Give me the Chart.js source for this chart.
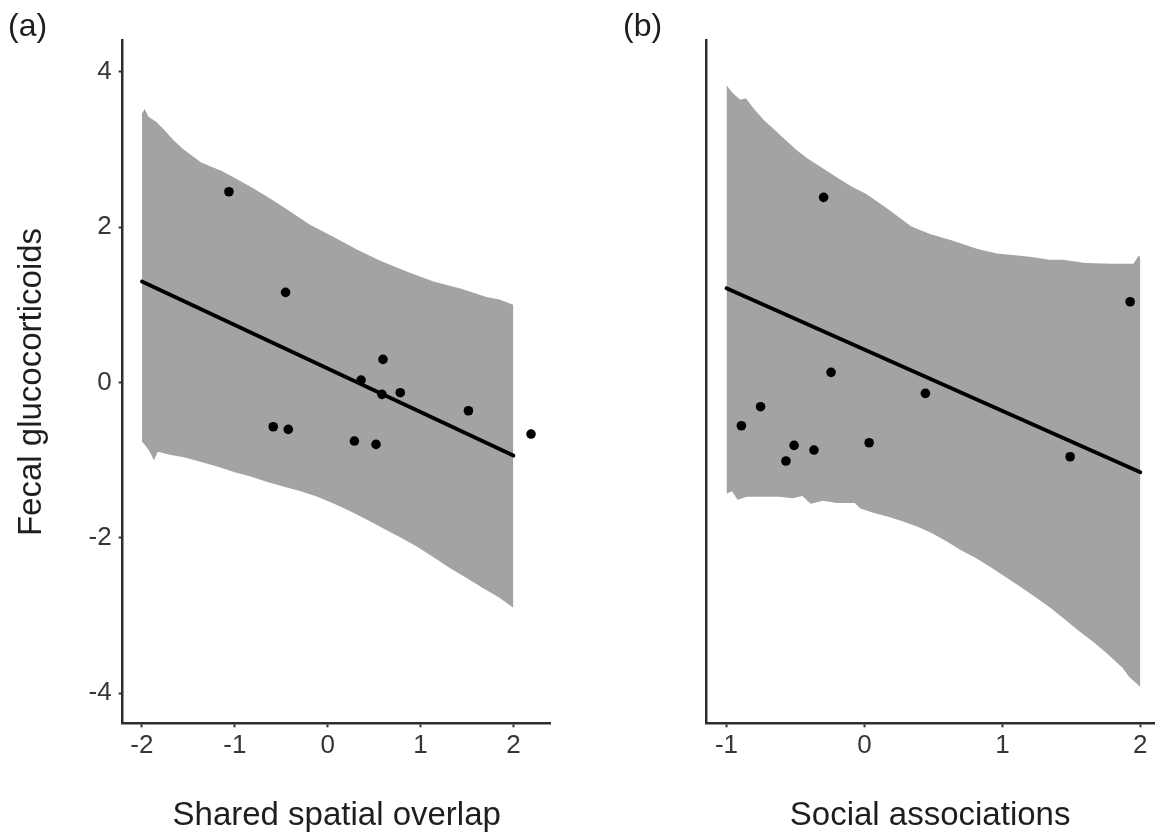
<!DOCTYPE html>
<html>
<head>
<meta charset="utf-8">
<title>Fecal glucocorticoids vs. spatial overlap and social associations</title>
<script src="https://cdn.jsdelivr.net/npm/chart.js@4.4.1/dist/chart.umd.min.js"></script>
<style>
  html, body { margin: 0; padding: 0; background: #fff; overflow: hidden; }
  #wrap { position: relative; width: 1159px; height: 838px; }
  canvas { position: absolute; top: 0; }
</style>
</head>
<body>
<div id="wrap">
  <canvas id="panelA" width="580" height="838" style="left:0px"></canvas>
  <canvas id="panelB" width="579" height="838" style="left:580px"></canvas>
</div>
<script>
// ---------- shared axis ----------
const yTicks = [-4, -2, 0, 2, 4];
const yTickLabels = ['-4', '-2', '0', '2', '4'];
const yTitle = 'Fecal glucocorticoids';

// ---------- panel (a): shared spatial overlap ----------
const overlapTicks = [-2, -1, 0, 1, 2];
const overlapTickLabels = ['-2', '-1', '0', '1', '2'];
const overlapTitle = 'Shared spatial overlap';

const overlapPointX = [-1.063, -0.453, 0.596, 0.360, 0.585, 0.782, 1.516, 2.190, -0.586, -0.424, 0.288, 0.521];
const overlapPointY = [2.456, 1.161, 0.298, 0.032, -0.152, -0.131, -0.363, -0.663, -0.569, -0.603, -0.753, -0.796];

const overlapFitX = [-2.0, 2.0];
const overlapFitY = [1.30, -0.94];

const overlapUpperX = [-2.0, -1.97, -1.93, -1.85, -1.75, -1.66, -1.55, -1.46, -1.37, -1.26, -1.15, -1.01, -0.83, -0.65, -0.44, -0.19, 0.07, 0.32, 0.56, 0.85, 1.14, 1.43, 1.71, 1.85, 2.0];
const overlapUpperY = [3.46, 3.52, 3.42, 3.36, 3.24, 3.12, 3.00, 2.92, 2.84, 2.78, 2.73, 2.64, 2.52, 2.39, 2.23, 2.03, 1.87, 1.71, 1.57, 1.43, 1.30, 1.21, 1.10, 1.07, 1.00];

const overlapLowerX = [-2.0, -1.97, -1.92, -1.87, -1.83, -1.70, -1.55, -1.37, -1.19, -1.01, -0.83, -0.65, -0.47, -0.29, -0.11, 0.07, 0.25, 0.43, 0.60, 0.78, 0.96, 1.14, 1.32, 1.50, 1.68, 1.85, 2.0];
const overlapLowerY = [-0.76, -0.80, -0.88, -1.00, -0.89, -0.93, -0.96, -1.02, -1.08, -1.15, -1.21, -1.28, -1.34, -1.40, -1.47, -1.56, -1.66, -1.77, -1.88, -1.99, -2.11, -2.25, -2.39, -2.52, -2.65, -2.77, -2.90];

// ---------- panel (b): social associations ----------
const socialTicks = [-1, 0, 1, 2];
const socialTickLabels = ['-1', '0', '1', '2'];
const socialTitle = 'Social associations';

const socialPointX = [-0.296, 1.926, -0.242, 0.442, -0.753, -0.892, -0.510, -0.366, -0.569, 0.034, 1.491];
const socialPointY = [2.384, 1.040, 0.131, -0.139, -0.311, -0.556, -0.809, -0.869, -1.010, -0.775, -0.955];

const socialFitX = [-1.0, 2.0];
const socialFitY = [1.215, -1.155];

const socialUpperX = [-1.0, -0.97, -0.94, -0.90, -0.86, -0.80, -0.73, -0.65, -0.57, -0.49, -0.41, -0.33, -0.19, -0.09, 0.01, 0.15, 0.34, 0.48, 0.63, 0.82, 0.96, 1.20, 1.34, 1.44, 1.60, 1.79, 1.95, 1.99, 2.0];
const socialUpperY = [3.83, 3.76, 3.70, 3.64, 3.66, 3.52, 3.38, 3.25, 3.12, 2.99, 2.88, 2.79, 2.63, 2.52, 2.43, 2.26, 2.01, 1.91, 1.83, 1.72, 1.66, 1.62, 1.58, 1.58, 1.54, 1.53, 1.53, 1.64, 1.60];

const socialLowerX = [-1.0, -0.96, -0.92, -0.85, -0.73, -0.62, -0.52, -0.45, -0.39, -0.30, -0.20, -0.07, -0.03, 0.07, 0.18, 0.28, 0.39, 0.49, 0.60, 0.70, 0.81, 0.91, 1.02, 1.13, 1.23, 1.34, 1.44, 1.55, 1.66, 1.76, 1.87, 1.92, 1.97, 2.0];
const socialLowerY = [-1.43, -1.40, -1.51, -1.47, -1.47, -1.47, -1.49, -1.46, -1.56, -1.52, -1.55, -1.55, -1.62, -1.68, -1.73, -1.79, -1.86, -1.94, -2.05, -2.16, -2.26, -2.37, -2.50, -2.63, -2.75, -2.89, -3.03, -3.19, -3.34, -3.49, -3.67, -3.79, -3.87, -3.92];

// ---------- styling ----------
const FONT = "'Liberation Sans', Arial, Helvetica, sans-serif";
const AXIS_COLOR = '#2e2e2e';
const TICK_TEXT = '#363636';
const TITLE_TEXT = '#1e1e1e';
const BAND_COLOR = '#a3a3a3';

const toXY = (xs, ys) => xs.map((x, i) => ({ x: x, y: ys[i] }));

// Draws the "(a)" / "(b)" tag in the top-left corner of each panel
const panelTag = {
  id: 'panelTag',
  afterDraw(chart, args, opts) {
    const ctx = chart.ctx;
    ctx.save();
    ctx.font = '32px ' + FONT;
    ctx.fillStyle = TITLE_TEXT;
    ctx.textBaseline = 'alphabetic';
    ctx.textAlign = 'left';
    ctx.fillText(opts.text, opts.x, opts.y);
    ctx.restore();
  }
};

function makePanel(canvasId, p) {
  const datasets = [
    {
      label: 'observed',
      data: toXY(p.px, p.py),
      showLine: false,
      pointRadius: 4.8,
      pointBackgroundColor: '#000',
      pointBorderWidth: 0,
      borderColor: '#000'
    },
    {
      label: 'fit',
      data: toXY(p.fx, p.fy),
      borderColor: '#000',
      borderWidth: 3.8,
      borderCapStyle: 'round',
      pointRadius: 0,
      tension: 0,
      fill: false
    },
    {
      label: 'lower',
      data: toXY(p.lx, p.ly),
      borderColor: 'rgba(0,0,0,0)',
      borderWidth: 0,
      pointRadius: 0,
      fill: false
    },
    {
      label: 'upper',
      data: toXY(p.ux, p.uy),
      borderColor: 'rgba(0,0,0,0)',
      borderWidth: 0,
      pointRadius: 0,
      backgroundColor: BAND_COLOR,
      fill: '-1'
    }
  ];

  return new Chart(document.getElementById(canvasId), {
    type: 'line',
    data: { datasets: datasets },
    plugins: [panelTag],
    options: {
      responsive: false,
      animation: false,
      events: [],
      devicePixelRatio: 1,
      layout: { padding: p.padding },
      plugins: {
        legend: { display: false },
        tooltip: { enabled: false },
        panelTag: p.tag
      },
      scales: {
        x: {
          type: 'linear',
          position: 'bottom',
          min: p.xMin,
          max: p.xMax,
          afterBuildTicks: s => { s.ticks = p.xTicks.map(v => ({ value: v })); },
          afterFit: s => { s.height = 114.7; },
          ticks: {
            font: { family: FONT, size: 26 },
            color: TICK_TEXT,
            padding: 3,
            maxRotation: 0,
            autoSkip: false,
            callback: (v, i) => p.xTickLabels[i]
          },
          grid: {
            display: true,
            drawOnChartArea: false,
            drawTicks: true,
            tickLength: 4,
            tickWidth: 2,
            tickColor: AXIS_COLOR
          },
          border: { display: true, color: AXIS_COLOR, width: 2.5 },
          title: {
            display: true,
            text: p.xTitle,
            font: { family: FONT, size: 33 },
            color: TITLE_TEXT,
            padding: { top: 0, bottom: 2.6 }
          }
        },
        y: {
          type: 'linear',
          position: 'left',
          min: -4.386,
          max: 4.40,
          afterBuildTicks: s => { s.ticks = yTicks.map(v => ({ value: v })); },
          afterFit: s => { s.width = p.yWidth; },
          ticks: {
            display: p.showY,
            font: { family: FONT, size: 26 },
            color: TICK_TEXT,
            padding: 7,
            autoSkip: false,
            callback: (v, i) => yTickLabels[i]
          },
          grid: {
            display: p.showY,
            drawOnChartArea: false,
            drawTicks: p.showY,
            tickLength: 4,
            tickWidth: 2,
            tickColor: AXIS_COLOR
          },
          border: { display: true, color: AXIS_COLOR, width: 2.5 },
          title: {
            display: p.showY,
            text: yTitle,
            font: { family: FONT, size: 33 },
            color: TITLE_TEXT,
            padding: { top: 12, bottom: 0 }
          }
        }
      }
    }
  });
}

makePanel('panelA', {
  px: overlapPointX, py: overlapPointY,
  fx: overlapFitX, fy: overlapFitY,
  lx: overlapLowerX, ly: overlapLowerY,
  ux: overlapUpperX, uy: overlapUpperY,
  xMin: -2.207, xMax: 2.402,
  xTicks: overlapTicks, xTickLabels: overlapTickLabels,
  xTitle: overlapTitle,
  yWidth: 122.7,
  showY: true,
  padding: { left: 0, right: 29.3, top: 40.7, bottom: 0 },
  tag: { text: '(a)', x: 8, y: 36 }
});

makePanel('panelB', {
  px: socialPointX, py: socialPointY,
  fx: socialFitX, fy: socialFitY,
  lx: socialLowerX, ly: socialLowerY,
  ux: socialUpperX, uy: socialUpperY,
  xMin: -1.1485, xMax: 2.1004,
  xTicks: socialTicks, xTickLabels: socialTickLabels,
  xTitle: socialTitle,
  yWidth: 126,
  showY: false,
  padding: { left: 0, right: 0, top: 40.7, bottom: 0 },
  tag: { text: '(b)', x: 43, y: 36 }
});
</script>
</body>
</html>
